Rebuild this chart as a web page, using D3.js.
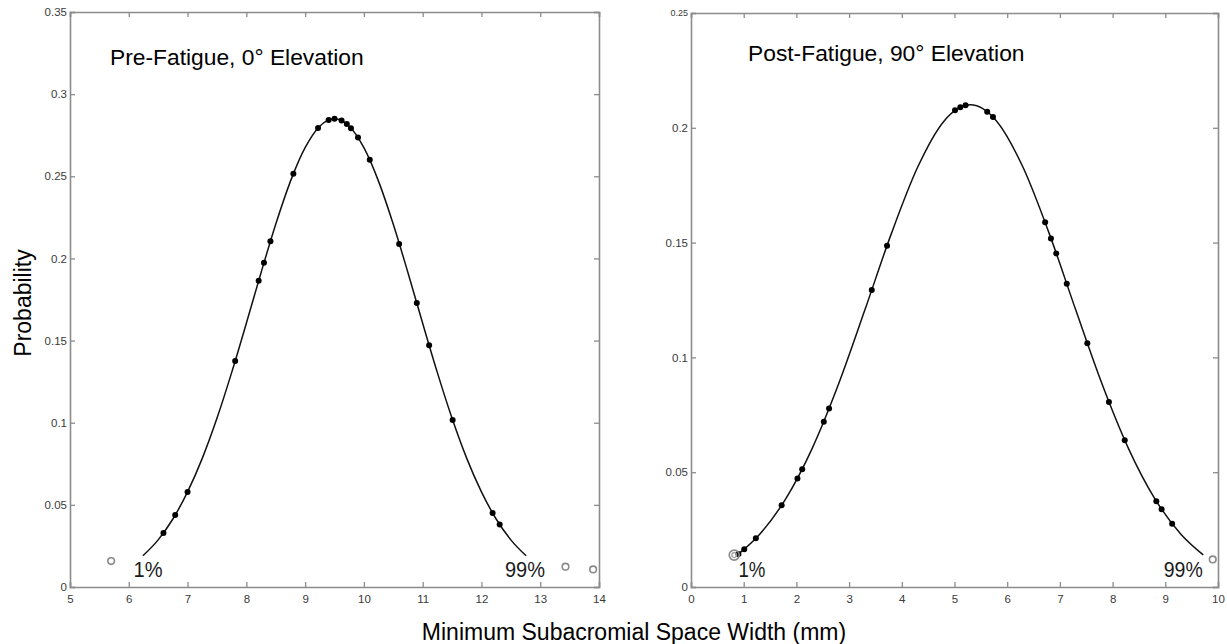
<!DOCTYPE html>
<html>
<head>
<meta charset="utf-8">
<script src="https://cdn.jsdelivr.net/npm/d3@7"></script>
<style>
  body { margin: 0; background: #fff; }
  svg { display: block; }
</style>
</head>
<body>
<svg id="chart" width="1227" height="644"></svg>
<script>
// ---- Pre-fatigue, 0° elevation ----
const preCurveX = [6.24, 6.5, 6.75, 7.0, 7.25, 7.5, 7.75, 8.0, 8.25, 8.5, 8.75, 9.0, 9.25, 9.5,
                   9.75, 10.0, 10.25, 10.5, 10.75, 11.0, 11.25, 11.5, 11.75, 12.0, 12.25, 12.5, 12.76];
const preCurveY = [0.0190, 0.0287, 0.0414, 0.0579, 0.0783, 0.1027, 0.1305, 0.1605, 0.1913, 0.2208, 0.2469, 0.2674, 0.2805, 0.2850,
                   0.2805, 0.2674, 0.2469, 0.2208, 0.1913, 0.1605, 0.1305, 0.1027, 0.0783, 0.0579, 0.0414, 0.0287, 0.0190];
const preDotX = [6.59, 6.79, 7.00, 7.81, 8.21, 8.30, 8.41, 8.80, 9.22, 9.40, 9.50, 9.62, 9.71, 9.78, 9.90,
                 10.10, 10.60, 10.90, 11.11, 11.51, 12.19, 12.31];
const preDotY = [0.0329, 0.0438, 0.0579, 0.1375, 0.1864, 0.1974, 0.2105, 0.2515, 0.2794, 0.2843, 0.2850, 0.2840, 0.2818, 0.2792, 0.2736,
                 0.2600, 0.2088, 0.1729, 0.1471, 0.1017, 0.0450, 0.0380];
const preOpenX = [5.70, 13.43, 13.90];
const preOpenY = [0.0158, 0.0124, 0.0107];
const preXTicks = [5, 6, 7, 8, 9, 10, 11, 12, 13, 14];
const preYTicks = [0, 0.05, 0.1, 0.15, 0.2, 0.25, 0.3, 0.35];
const preYTickLabels = ["0", "0.05", "0.1", "0.15", "0.2", "0.25", "0.3", "0.35"];

// ---- Post-fatigue, 90° elevation ----
const postCurveX = [0.88, 1.3, 1.8, 2.3, 2.8, 3.3, 3.8, 4.3, 4.8, 5.3,
                    5.8, 6.3, 6.8, 7.3, 7.8, 8.3, 8.8, 9.3, 9.72];
const postCurveY = [0.0140, 0.0229, 0.0385, 0.0604, 0.0884, 0.1207, 0.1538, 0.1828, 0.2029, 0.2100,
                    0.2029, 0.1828, 0.1538, 0.1207, 0.0884, 0.0604, 0.0385, 0.0229, 0.0140];
const postDotX = [0.90, 1.01, 1.23, 1.72, 2.02, 2.11, 2.52, 2.62, 3.43, 3.72, 5.01, 5.11, 5.21, 5.62, 5.73,
                  6.72, 6.83, 6.93, 7.13, 7.52, 7.93, 8.23, 8.83, 8.93, 9.13];
const postDotY = [0.0144, 0.0164, 0.0212, 0.0356, 0.0473, 0.0513, 0.0720, 0.0777, 0.1294, 0.1486, 0.2076, 0.2090, 0.2098, 0.2070, 0.2047,
                  0.1589, 0.1518, 0.1453, 0.1321, 0.1062, 0.0806, 0.0639, 0.0374, 0.0339, 0.0275];
const postOpenX = [0.82, 9.90];
const postOpenY = [0.0139, 0.0120];
const postXTicks = [0, 1, 2, 3, 4, 5, 6, 7, 8, 9, 10];
const postYTicks = [0, 0.05, 0.1, 0.15, 0.2, 0.25];
const postYTickLabels = ["0", "0.05", "0.1", "0.15", "0.2", "0.25"];

const panels = [
  {
    title: "Pre-Fatigue, 0° Elevation", titleX: 110, titleY: 65,
    left: 70, right: 599, top: 12, bottom: 587,
    xDomain: [5, 14], yDomain: [0, 0.35],
    curveX: preCurveX, curveY: preCurveY, dotX: preDotX, dotY: preDotY,
    openX: preOpenX, openY: preOpenY, ringed: [],
    xTicks: preXTicks, yTicks: preYTicks, yTickLabels: preYTickLabels,
    lowLabel: { text: "1%", x: 6.08, w: 29 }, highLabel: { text: "99%", x: 12.40, w: 40 }
  },
  {
    title: "Post-Fatigue, 90° Elevation", titleX: 748, titleY: 61,
    left: 691, right: 1218, top: 13, bottom: 587,
    xDomain: [0, 10], yDomain: [0, 0.25],
    curveX: postCurveX, curveY: postCurveY, dotX: postDotX, dotY: postDotY,
    openX: postOpenX, openY: postOpenY, ringed: [0],
    xTicks: postXTicks, yTicks: postYTicks, yTickLabels: postYTickLabels,
    lowLabel: { text: "1%", x: 0.90, w: 27 }, highLabel: { text: "99%", x: 8.97, w: 39 }
  }
];

const svg = d3.select("#chart");
const frameColor = "#8c8c8c";
const tickLen = 5;
const fontFamily = "'Liberation Sans', Arial, sans-serif";

panels.forEach((p, pi) => {
  const x = d3.scaleLinear().domain(p.xDomain).range([p.left, p.right]);
  const y = d3.scaleLinear().domain(p.yDomain).range([p.bottom, p.top]);
  const g = svg.append("g");

  // Axes: bottom/left carry labels, top/right mirror the ticks; all ticks point inward
  const bottomAxis = d3.axisBottom(x).tickValues(p.xTicks).tickSize(-tickLen).tickPadding(10).tickFormat(d3.format("d"));
  const topAxis = d3.axisTop(x).tickValues(p.xTicks).tickSize(-tickLen).tickFormat("");
  const leftAxis = d3.axisLeft(y).tickValues(p.yTicks).tickSize(-tickLen).tickPadding(3)
    .tickFormat((d, i) => p.yTickLabels[i]);
  const rightAxis = d3.axisRight(y).tickValues(p.yTicks).tickSize(-tickLen).tickFormat("");

  const axes = [
    g.append("g").attr("transform", `translate(0,${p.bottom})`).call(bottomAxis),
    g.append("g").attr("transform", `translate(0,${p.top})`).call(topAxis),
    g.append("g").attr("transform", `translate(${p.left},0)`).call(leftAxis),
    g.append("g").attr("transform", `translate(${p.right},0)`).call(rightAxis)
  ];
  axes.forEach(a => {
    a.select(".domain").attr("stroke", frameColor).attr("stroke-width", 1.6);
    a.selectAll(".tick line").attr("stroke", frameColor).attr("stroke-width", 1.3);
    a.selectAll(".tick text")
      .attr("fill", "#3a3a3a")
      .style("font-family", fontFamily)
      .style("font-size", "11.5px");
  });
  axes[0].selectAll(".tick text").attr("dy", "0.55em");
  // the top label of the post-fatigue panel is printed smaller
  if (pi === 1) {
    axes[2].selectAll(".tick text").filter(d => d === 0.25).style("font-size", "9px");
  }

  // Fitted probability curve
  const line = d3.line()
    .x((d, i) => x(p.curveX[i]))
    .y((d, i) => y(p.curveY[i]))
    .curve(d3.curveMonotoneX);
  g.append("path")
    .datum(p.curveX)
    .attr("d", line)
    .attr("fill", "none")
    .attr("stroke", "#111")
    .attr("stroke-width", 1.5);

  // Observed widths
  g.selectAll("circle.dot")
    .data(p.dotX)
    .join("circle")
    .attr("class", "dot")
    .attr("cx", d => x(d))
    .attr("cy", (d, i) => y(p.dotY[i]))
    .attr("r", 3)
    .attr("fill", "#000");

  // Points outside the 1%–99% range
  g.selectAll("circle.open")
    .data(p.openX)
    .join("circle")
    .attr("class", "open")
    .attr("cx", d => x(d))
    .attr("cy", (d, i) => y(p.openY[i]))
    .attr("r", (d, i) => p.ringed.includes(i) ? 5 : 3.3)
    .attr("fill", "none")
    .attr("stroke", "#8a8a8a")
    .attr("stroke-width", 1.6);
  p.ringed.forEach(i => {
    g.append("circle")
      .attr("cx", x(p.openX[i]))
      .attr("cy", y(p.openY[i]))
      .attr("r", 2.4)
      .attr("fill", "none")
      .attr("stroke", "#9a9a9a")
      .attr("stroke-width", 1.2);
  });

  // Percentile labels
  [p.lowLabel, p.highLabel].forEach(l => {
    g.append("text")
      .attr("x", x(l.x))
      .attr("y", 577)
      .attr("textLength", l.w)
      .attr("lengthAdjust", "spacingAndGlyphs")
      .attr("fill", "#1a1a1a")
      .style("font-family", fontFamily)
      .style("font-size", "22px")
      .text(l.text);
  });

  // Panel title
  g.append("text")
    .attr("x", p.titleX)
    .attr("y", p.titleY)
    .attr("fill", "#000")
    .style("font-family", fontFamily)
    .style("font-size", "22.8px")
    .text(p.title);
});

// Shared axis titles
svg.append("text")
  .attr("transform", "translate(31,303) rotate(-90)")
  .attr("text-anchor", "middle")
  .attr("fill", "#000")
  .style("font-family", fontFamily)
  .style("font-size", "23px")
  .text("Probability");

svg.append("text")
  .attr("x", 634)
  .attr("y", 640)
  .attr("text-anchor", "middle")
  .attr("fill", "#000")
  .style("font-family", fontFamily)
  .style("font-size", "23px")
  .text("Minimum Subacromial Space Width (mm)");
</script>
</body>
</html>
